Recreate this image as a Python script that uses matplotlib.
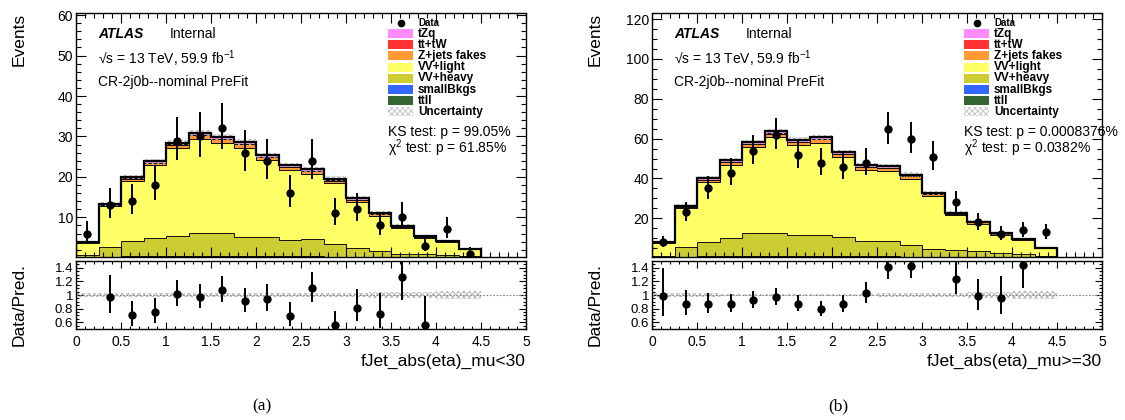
import numpy as np
import matplotlib
matplotlib.use("Agg")
import matplotlib.pyplot as plt
from matplotlib.ticker import MultipleLocator

plt.rcParams["font.family"] = ["Liberation Sans", "DejaVu Sans"]
plt.rcParams["mathtext.default"] = "regular"
plt.rcParams["hatch.linewidth"] = 0.6

# binning: |eta| from 0 to 4.5 in steps of 0.25
edges = np.arange(0, 4.51, 0.25)
centers = 0.5 * (edges[:-1] + edges[1:])

# ---- mu < 30 ----
data_a = [6, 13, 14, 18, 29, 30, 32, 26, 24, 16, 24, 11, 12, 8, 10, 3, 7, 1]
ttll_a = [0.05, 0.2, 0.3, 0.35, 0.4, 0.45, 0.45, 0.4, 0.4, 0.35, 0.3, 0.25, 0.2, 0.15, 0.1, 0.1, 0.05, 0.03]
small_a = [0.02, 0.05, 0.08, 0.1, 0.1, 0.1, 0.1, 0.1, 0.1, 0.08, 0.08, 0.06, 0.05, 0.04, 0.03, 0.02, 0.02, 0.01]
vvheavy_a = [0.6, 2.3, 3.7, 4.4, 5.0, 5.5, 5.5, 4.7, 4.7, 4.0, 4.2, 3.2, 2.1, 1.4, 0.9, 0.9, 0.6, 0.4]
vvlight_a = [3.1, 10.2, 15.0, 18.0, 21.7, 23.3, 22.4, 22.0, 18.9, 17.2, 16.1, 15.0, 11.5, 8.8, 6.4, 4.0, 3.3, 1.7]
zjets_a = [0.1, 0.3, 0.5, 0.6, 0.8, 0.9, 0.9, 0.9, 0.8, 0.8, 0.7, 0.6, 0.5, 0.4, 0.3, 0.2, 0.15, 0.1]
tttw_a = [0.02, 0.05, 0.08, 0.1, 0.1, 0.12, 0.12, 0.12, 0.1, 0.1, 0.1, 0.08, 0.06, 0.05, 0.04, 0.03, 0.02, 0.01]
tzq_a = [0.05, 0.2, 0.3, 0.35, 0.4, 0.45, 0.45, 0.45, 0.4, 0.4, 0.4, 0.35, 0.3, 0.2, 0.15, 0.1, 0.08, 0.05]
relunc_a = [0.035, 0.03, 0.025, 0.025, 0.025, 0.025, 0.025, 0.025, 0.025, 0.025, 0.03, 0.03, 0.035, 0.04, 0.045, 0.05, 0.055, 0.06]

# ---- mu >= 30 ----
data_b = [8, 23, 35, 43, 54, 62, 52, 48, 46, 48, 65, 60, 51, 28, 18, 12, 14, 13]
ttll_b = [0.1, 0.5, 0.8, 0.9, 1.0, 1.1, 1.1, 1.0, 1.0, 0.9, 0.9, 0.7, 0.5, 0.4, 0.3, 0.2, 0.15, 0.1]
small_b = [0.03, 0.1, 0.15, 0.2, 0.2, 0.2, 0.2, 0.2, 0.2, 0.15, 0.15, 0.12, 0.1, 0.08, 0.06, 0.05, 0.04, 0.02]
vvheavy_b = [0.8, 5.0, 7.2, 9.2, 11.2, 11.5, 10.3, 10.5, 9.5, 7.8, 7.8, 5.8, 3.8, 3.8, 3.2, 2.6, 2.0, 1.2]
vvlight_b = [6.9, 19.6, 30.1, 36.7, 43.4, 48.0, 45.0, 46.2, 40.0, 35.4, 35.0, 33.3, 26.7, 17.2, 13.8, 9.0, 7.0, 3.7]
zjets_b = [0.2, 0.6, 1.0, 1.3, 1.5, 1.7, 1.7, 1.7, 1.6, 1.5, 1.4, 1.2, 1.0, 0.8, 0.6, 0.4, 0.3, 0.2]
tttw_b = [0.03, 0.1, 0.15, 0.2, 0.2, 0.25, 0.25, 0.25, 0.2, 0.2, 0.2, 0.15, 0.12, 0.1, 0.08, 0.06, 0.04, 0.02]
tzq_b = [0.1, 0.4, 0.6, 0.7, 0.8, 0.9, 0.9, 0.9, 0.8, 0.8, 0.8, 0.7, 0.6, 0.4, 0.3, 0.2, 0.15, 0.1]
relunc_b = [0.035, 0.025, 0.025, 0.02, 0.02, 0.02, 0.02, 0.02, 0.02, 0.02, 0.025, 0.025, 0.03, 0.035, 0.04, 0.05, 0.055, 0.06]

samples = ["tZq", "tt+tW", "Z+jets fakes", "VV+light", "VV+heavy", "smallBkgs", "ttll"]
colors = {"tZq": "#ff8cff", "tt+tW": "#ff3333", "Z+jets fakes": "#ff9933",
          "VV+light": "#ffff66", "VV+heavy": "#cccc33", "smallBkgs": "#3366ff",
          "ttll": "#336633"}

W, H = 1125, 420
fig = plt.figure(figsize=(W / 100, H / 100), dpi=100)


def box(x0, y0, x1, y1):
    return [x0 / W, 1 - y1 / H, (x1 - x0) / W, (y1 - y0) / H]


def ftext(x, y, s, **kw):
    fig.text(x / W, 1 - y / H, s, **kw)


def style(ax, ymaj, ymin_, xlen=7):
    ax.set_xlim(0, 5)
    ax.xaxis.set_major_locator(MultipleLocator(0.5))
    ax.xaxis.set_minor_locator(MultipleLocator(0.1))
    ax.yaxis.set_major_locator(MultipleLocator(ymaj))
    ax.yaxis.set_minor_locator(MultipleLocator(ymin_))
    ax.tick_params(which="both", direction="in", top=True, right=True, width=0.8)
    ax.tick_params(which="major", length=xlen)
    ax.tick_params(which="minor", length=xlen / 2)
    for s in ax.spines.values():
        s.set_linewidth(1.0)


def panel(x0, x1, comps, data, relunc, ymax, ymin, ystep, xlabel, ks, chi2, tag, tagx):
    ax = fig.add_axes(box(x0, 13.5, x1, 257))
    rax = fig.add_axes(box(x0, 261, x1, 329))

    # stack from the bottom: ttll first, tZq last
    order = ["ttll", "smallBkgs", "VV+heavy", "VV+light", "Z+jets fakes", "tt+tW", "tZq"]
    base = np.zeros(len(centers))
    for name in order:
        vals = np.asarray(comps[name])
        ax.stairs(base + vals, edges, baseline=base.copy(), fill=True,
                  facecolor=colors[name], edgecolor="black", linewidth=0.6)
        base = base + vals
    total = base
    unc = total * np.asarray(relunc)
    ax.stairs(total + unc, edges, baseline=total - unc, fill=True,
              facecolor="none", edgecolor="#b0b0b0", hatch="xxxxxx", linewidth=0)
    ax.stairs(total, edges, color="black", linewidth=1.6)

    d = np.asarray(data, dtype=float)
    up = 0.5 + np.sqrt(d + 0.25)
    dn = -0.5 + np.sqrt(d + 0.25)
    ax.errorbar(centers, d, yerr=[dn, up], fmt="o", color="black",
                markersize=5, elinewidth=1.4, capsize=0)

    ax.set_ylim(ymin, ymax)
    style(ax, ystep, ystep / 5 if ystep < 15 else ystep / 4)
    ax.set_xticklabels([])
    ax.tick_params(axis="y", labelsize=10, pad=2)
    ftext(x0 - 57, 13, "Events", fontsize=12.5, rotation=90, ha="center", va="top")

    # ratio panel, points outside the range are not drawn
    r = d / total
    rup = up / total
    rdn = dn / total
    ok = (r > 0.5) & (r < 1.5)
    rax.stairs(1 + np.asarray(relunc), edges, baseline=1 - np.asarray(relunc), fill=True,
               facecolor="none", edgecolor="#b0b0b0", hatch="xxxxxx", linewidth=0)
    rax.axhline(1, color="#888888", linestyle=(0, (1.5, 1.5)), linewidth=0.8)
    rax.errorbar(centers[ok], r[ok], yerr=[rdn[ok], rup[ok]], fmt="o", color="black",
                 markersize=5, elinewidth=1.4, capsize=0)
    rax.set_ylim(0.5, 1.5)
    style(rax, 0.2, 0.05, xlen=5)
    rax.set_yticks([0.6, 0.8, 1.0, 1.2, 1.4])
    rax.set_yticklabels(["0.6", "0.8", "1", "1.2", "1.4"])
    rax.tick_params(axis="y", labelsize=9.5, pad=2)
    rax.tick_params(axis="x", labelsize=10, pad=4)
    rax.set_xticks(np.arange(0, 5.01, 0.5))
    rax.set_xticklabels(["0", "0.5", "1", "1.5", "2", "2.5", "3", "3.5", "4", "4.5", "5"])

    ftext(x1, 361, xlabel, fontsize=12.5, ha="right", va="center")
    ftext(x0 - 57, 305, "Data/Pred.", fontsize=12.5, rotation=90, ha="center", va="center")

    # ATLAS labels
    ftext(x0 + 22, 34, "ATLAS", fontsize=10, fontweight="bold", fontstyle="italic", va="center")
    ftext(x0 + 94, 34, "Internal", fontsize=10, va="center")
    ftext(x0 + 22, 59, "\u221as = 13 TeV, 59.9 fb$^{-1}$", fontsize=10, va="center")
    ftext(x0 + 22, 82, "CR-2j0b--nominal PreFit", fontsize=10, va="center")

    # legend
    lx = x0 + 312
    fig.lines.append(plt.Line2D([(lx + 13) / W], [1 - 23 / H], marker="o", color="black",
                                markersize=4.5, transform=fig.transFigure))
    ftext(lx + 30, 23, "Data", fontsize=7, fontweight="bold", va="center")
    for i, name in enumerate(samples):
        yc = 33.5 + 11.2 * i
        fig.patches.append(plt.Rectangle((lx / W, 1 - (yc + 4.5) / H), 25 / W, 9 / H,
                                         facecolor=colors[name], edgecolor="none",
                                         transform=fig.transFigure))
        ftext(lx + 30, yc, name, fontsize=8.5, fontweight="bold", va="center")
    yc = 33.5 + 11.2 * len(samples)
    fig.patches.append(plt.Rectangle((lx / W, 1 - (yc + 4.5) / H), 25 / W, 9 / H,
                                     facecolor="none", edgecolor="#c0c0c0", hatch="xxxxxx",
                                     linewidth=0, transform=fig.transFigure))
    ftext(lx + 30, yc, "Uncertainty", fontsize=8.5, fontweight="bold", va="center")

    ftext(lx, 132, "KS test: p = " + ks, fontsize=10, va="center")
    ftext(lx, 148, r"$\chi^{2}$ test: p = " + chi2, fontsize=10, va="center")

    ftext(tagx, 406, tag, fontsize=12.5, family="Liberation Serif", ha="center", va="center")


comps_a = {"tZq": tzq_a, "tt+tW": tttw_a, "Z+jets fakes": zjets_a, "VV+light": vvlight_a,
           "VV+heavy": vvheavy_a, "smallBkgs": small_a, "ttll": ttll_a}
comps_b = {"tZq": tzq_b, "tt+tW": tttw_b, "Z+jets fakes": zjets_b, "VV+light": vvlight_b,
           "VV+heavy": vvheavy_b, "smallBkgs": small_b, "ttll": ttll_b}

panel(76, 526, comps_a, data_a, relunc_a, 60.4, 0.2, 10, "fJet_abs(eta)_mu<30",
      "99.05%", "61.85%", "(a)", 262)
panel(652, 1102, comps_b, data_b, relunc_b, 122.8, 0.6, 20, "fJet_abs(eta)_mu>=30",
      "0.0008376%", "0.0382%", "(b)", 838)

fig.savefig("out.png", dpi=100)
